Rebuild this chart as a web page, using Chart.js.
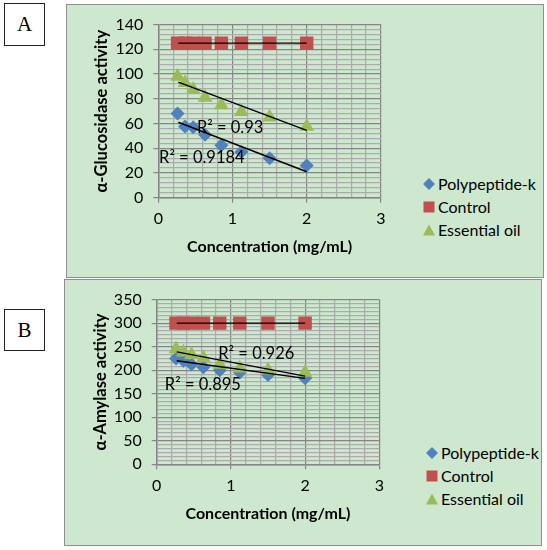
<!DOCTYPE html>
<html lang="en">
<head>
<meta charset="UTF-8">
<title>α-Glucosidase and α-Amylase activity</title>
<script src="https://cdn.jsdelivr.net/npm/chart.js"></script>
<style>
  body { margin: 0; background: #fff; font-family: Lato, sans-serif; }
  .panel { position: absolute; background: #cde8cf; border: 1.5px solid #8f8f8f; box-sizing: border-box; }
  .tag { position: absolute; border: 1.5px solid #222; background: #fff; box-sizing: border-box;
         font-family: "Liberation Serif", serif; font-size: 21px; text-align: center; }
  .chart { position: absolute; }
  .legend { position: absolute; font-size: 16px; color: #000; }
  .legend div { position: absolute; left: 0; white-space: nowrap; height: 18px; line-height: 18px; }
  .legend svg { position: absolute; left: -15px; top: 3px; }
</style>
</head>
<body>
  <div class="panel" style="left:66px;top:4px;width:478px;height:274px;"></div>
  <div class="panel" style="left:64px;top:279px;width:478px;height:267px;"></div>
  <div class="tag" style="left:4px;top:3px;width:41px;height:43px;line-height:41px;">A</div>
  <div class="tag" style="left:4px;top:309px;width:41px;height:42px;line-height:40px;">B</div>

  <div class="chart" style="left:66px;top:5px;width:330px;height:272px;"><canvas id="chartA"></canvas></div>
  <div class="chart" style="left:66px;top:280px;width:330px;height:264px;"><canvas id="chartB"></canvas></div>

  <div class="legend" id="legendA" style="left:438px;top:175px;"></div>
  <div class="legend" id="legendB" style="left:441px;top:444px;"></div>

<script>
  // concentrations (mg/mL), same for every series
  const concentrations = [0.26, 0.36, 0.47, 0.63, 0.85, 1.12, 1.5, 2.0];
  const seriesNames = ['Polypeptide-k', 'Control', 'Essential oil'];

  // A: alpha-glucosidase
  const glucPolypeptide  = [68, 57.5, 57, 51, 42.5, 37, 32, 26];
  const glucControl      = [125, 125, 125, 125, 125, 125, 125, 125];
  const glucEssentialOil = [98, 93, 87.5, 81, 75, 69.5, 65, 57.5];
  const trendX = [0.27, 2.0];
  const glucTrendPolypeptide  = [61, 21];
  const glucTrendControl      = [125, 125];
  const glucTrendEssentialOil = [93.5, 54.5];
  const glucR2 = ['R² = 0.9184', 'R² = 0.93'];

  // B: alpha-amylase
  const amylPolypeptide  = [225, 220, 212, 206, 200, 195, 190, 183];
  const amylControl      = [300, 300, 300, 300, 300, 300, 300, 300];
  const amylEssentialOil = [245, 238, 233, 226, 212, 204, 200, 195];
  const amylTrendPolypeptide  = [220, 182.5];
  const amylTrendControl      = [300, 300];
  const amylTrendEssentialOil = [239, 187.5];
  const amylR2 = ['R² = 0.895', 'R² = 0.926'];

  const COLORS = ['#4f81bd', '#c0504d', '#9bbb59'];
  const STYLES = ['rectRot', 'rect', 'triangle'];
  const RADII = [7, 9.5, 8.5];
  const MAJOR = '#858585', MINOR = '#ababab';
  const FONT = 'Lato';

  const near = (v, step) => Math.abs(v / step - Math.round(v / step)) < 1e-6;
  const pts = (xs, ys) => ys.map((y, i) => ({ x: xs[i], y }));

  // draws the R² texts on top of everything
  const r2Labels = {
    id: 'r2Labels',
    afterDatasetsDraw(chart, args, opts) {
      const { ctx, scales } = chart;
      ctx.save();
      ctx.font = '16.5px ' + FONT;
      ctx.fillStyle = '#000';
      ctx.textBaseline = 'middle';
      opts.items.forEach(it => {
        ctx.fillText(it.text, scales.x.getPixelForValue(it.x), scales.y.getPixelForValue(it.y));
      });
      ctx.restore();
    }
  };

  function makeChart(id, c) {
    const series = [c.pp, c.ctrl, c.eo];
    const trends = [c.tPp, c.tCtrl, c.tEo];
    const datasets = [];
    trends.forEach(t => datasets.push({
      type: 'line', data: pts(trendX, t), borderColor: '#000', borderWidth: 1.4,
      pointRadius: 0, fill: false, order: 0
    }));
    series.forEach((s, i) => datasets.push({
      label: seriesNames[i], data: pts(concentrations, s),
      backgroundColor: COLORS[i], borderColor: COLORS[i], borderWidth: 0,
      pointStyle: STYLES[i], pointRadius: RADII[i], order: 3 - i
    }));

    return new Chart(document.getElementById(id), {
      type: 'scatter',
      data: { datasets },
      plugins: [r2Labels],
      options: {
        responsive: true, maintainAspectRatio: false, animation: false,
        layout: { padding: { top: 19.3, left: 0, right: c.padRight, bottom: 0 } },
        plugins: {
          legend: { display: false }, tooltip: { enabled: false },
          r2Labels: { items: c.labels }
        },
        scales: {
          x: {
            type: 'linear', min: 0, max: 3,
            afterFit: s => { s.height = c.xHeight; },
            ticks: {
              stepSize: 0.2, autoSkip: false, maxRotation: 0, padding: 7, color: '#000',
              font: { family: FONT, size: 16 },
              callback: v => near(v, 1) ? String(Math.round(v)) : ''
            },
            grid: {
              color: ctx => near(ctx.tick.value, 1) ? MAJOR : MINOR,
              tickColor: ctx => near(ctx.tick.value, 1) ? MAJOR : 'transparent',
              lineWidth: 1.2, tickLength: 5
            },
            border: { color: MAJOR, width: 1.5 },
            title: {
              display: true, text: 'Concentration (mg/mL)', color: '#000',
              font: { family: FONT, size: 16, weight: 'bold' }, padding: { top: 0, bottom: 20.5 }
            }
          },
          y: {
            min: 0, max: c.yMax,
            afterFit: s => { s.width = c.yWidth; },
            ticks: {
              stepSize: c.minor, autoSkip: false, padding: 10, color: '#000',
              font: { family: FONT, size: 16 },
              callback: v => near(v, c.major) ? String(Math.round(v)) : ''
            },
            grid: {
              color: ctx => near(ctx.tick.value, c.major) ? MAJOR : MINOR,
              tickColor: ctx => near(ctx.tick.value, c.major) ? MAJOR : 'transparent',
              lineWidth: 1.2, tickLength: 5
            },
            border: { color: MAJOR, width: 1.5 },
            title: {
              display: true, text: c.yTitle, color: '#000',
              font: { family: FONT, size: 16.5, weight: 'bold' }, padding: { top: c.yTitlePad, bottom: 0 }
            }
          }
        }
      }
    });
  }

  function makeLegend(id) {
    const box = document.getElementById(id);
    const shapes = [
      '<polygon points="6,0 12,6 6,12 0,6"/>',
      '<rect x="0.5" y="0.5" width="11" height="11"/>',
      '<polygon points="6,0.5 12,11.5 0,11.5"/>'
    ];
    seriesNames.forEach((name, i) => {
      const row = document.createElement('div');
      row.style.top = (i * 23) + 'px';
      row.innerHTML = '<svg width="12" height="12" fill="' + COLORS[i] + '">' + shapes[i] + '</svg>';
      row.appendChild(document.createTextNode(name));
      box.appendChild(row);
    });
  }

  makeChart('chartA', {
    pp: glucPolypeptide, ctrl: glucControl, eo: glucEssentialOil,
    tPp: glucTrendPolypeptide, tCtrl: glucTrendControl, tEo: glucTrendEssentialOil,
    yMax: 140, major: 20, minor: 4, yTitle: 'α-Glucosidase activity',
    yWidth: 92.3, xHeight: 79.3, padRight: 15.1, yTitlePad: 26,
    labels: [{ text: glucR2[0], x: 0.01, y: 32 }, { text: glucR2[1], x: 0.52, y: 56.5 }]
  });
  makeChart('chartB', {
    pp: amylPolypeptide, ctrl: amylControl, eo: amylEssentialOil,
    tPp: amylTrendPolypeptide, tCtrl: amylTrendControl, tEo: amylTrendEssentialOil,
    yMax: 350, major: 50, minor: 50 / 6, yTitle: 'α-Amylase activity',
    yWidth: 90.7, xHeight: 79.7, padRight: 16.7, yTitlePad: 24.5,
    labels: [{ text: amylR2[0], x: 0.11, y: 170 }, { text: amylR2[1], x: 0.83, y: 235.5 }]
  });
  makeLegend('legendA');
  makeLegend('legendB');
</script>
</body>
</html>
